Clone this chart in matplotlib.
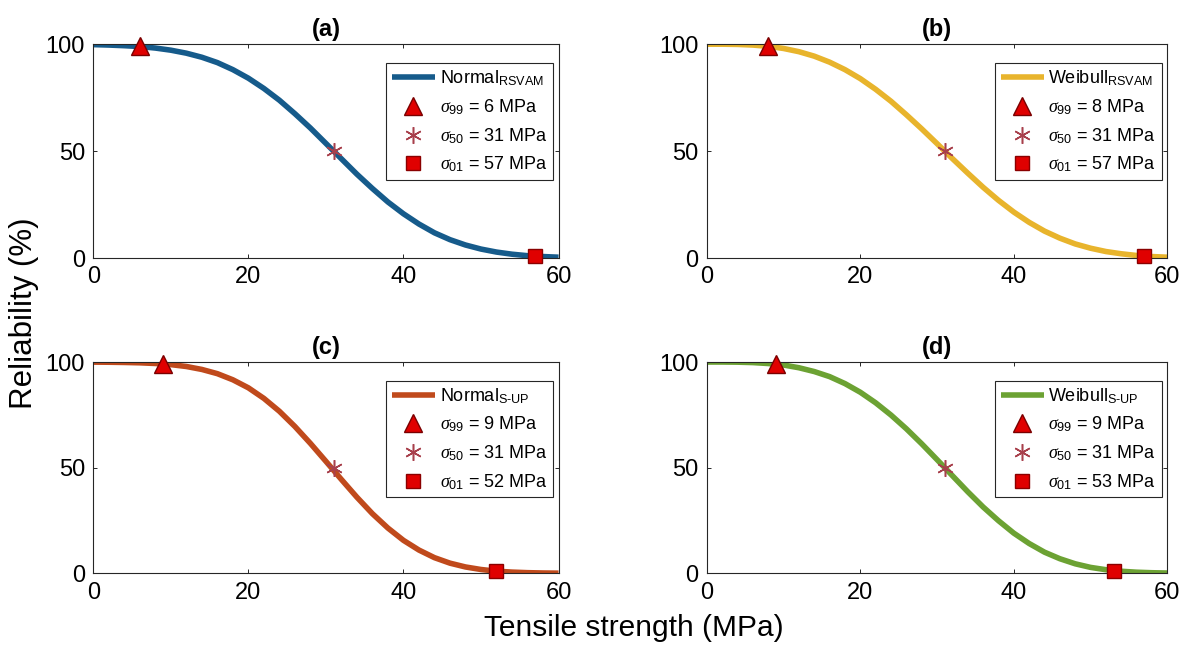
import matplotlib
matplotlib.use("Agg")
from matplotlib import pyplot as plt

plt.rcParams['font.family'] = ['Liberation Sans', 'DejaVu Sans']
plt.rcParams['mathtext.fontset'] = 'custom'
plt.rcParams['mathtext.rm'] = 'Liberation Sans'
plt.rcParams['mathtext.it'] = 'Liberation Serif:italic'

# tensile strength grid (MPa) and reliability (%)
strength = [0, 2, 4, 6, 8, 10, 12, 14, 16, 18, 20, 22, 24, 26, 28, 30,
            32, 34, 36, 38, 40, 42, 44, 46, 48, 50, 52, 54, 56, 58, 60]

normal_rsvam = [99.8, 99.6, 99.3, 98.9, 98.2, 97.2, 95.8, 93.9, 91.4, 88.1, 84.1,
                79.3, 73.8, 67.5, 60.8, 53.6, 46.4, 39.2, 32.5, 26.2, 20.7, 15.9,
                11.8, 8.6, 6.1, 4.2, 2.8, 1.8, 1.1, 0.7, 0.4]
weibull_rsvam = [100, 100, 99.9, 99.6, 99.0, 98.0, 96.5, 94.4, 91.6, 88.1, 83.9,
                 78.9, 73.3, 67.0, 60.4, 53.5, 46.5, 39.7, 33.1, 27.0, 21.5, 16.7,
                 12.6, 9.3, 6.6, 4.6, 3.05, 2.0, 1.2, 0.7, 0.4]
normal_sup = [99.96, 99.91, 99.81, 99.64, 99.32, 98.78, 97.9, 96.5, 94.5, 91.6, 87.8,
              82.8, 76.7, 69.5, 61.5, 53.0, 44.4, 36.0, 28.2, 21.4, 15.6, 11.0,
              7.4, 4.8, 3.0, 1.8, 1.0, 0.57, 0.3, 0.15, 0.07]
weibull_sup = [100, 100, 99.94, 99.75, 99.3, 98.6, 97.3, 95.5, 93.1, 89.8, 85.7,
               80.7, 74.9, 68.4, 61.3, 53.8, 46.2, 38.6, 31.4, 24.9, 19.0, 14.1,
               10.0, 6.9, 4.5, 2.8, 1.7, 0.97, 0.52, 0.27, 0.13]

curves = [normal_rsvam, weibull_rsvam, normal_sup, weibull_sup]
curve_names = [r'Normal$_{\mathrm{RSVAM}}$', r'Weibull$_{\mathrm{RSVAM}}$',
               r'Normal$_{\mathrm{S\text{-}UP}}$', r'Weibull$_{\mathrm{S\text{-}UP}}$']
panel_titles = ['(a)', '(b)', '(c)', '(d)']
curve_colors = ['#165b8b', '#e8b42c', '#c04a1c', '#6ca233']

# characteristic strengths: sigma_99, sigma_50, sigma_01
sigma99 = [6, 8, 9, 9]
sigma50 = [31, 31, 31, 31]
sigma01 = [57, 57, 52, 53]

fig = plt.figure(figsize=(11.96, 6.5), dpi=100)
positions = [[0.078, 0.603, 0.389, 0.329],
             [0.591, 0.603, 0.385, 0.329],
             [0.078, 0.118, 0.389, 0.325],
             [0.591, 0.118, 0.385, 0.325]]

for i in range(4):
    ax = fig.add_axes(positions[i])
    ax.plot(strength, curves[i], color=curve_colors[i], lw=4,
            solid_capstyle='butt', label=curve_names[i], zorder=2)
    ax.plot(sigma99[i], 99, linestyle='none', marker='^', markersize=13,
            markerfacecolor='#e00000', markeredgecolor='#7a0000', markeredgewidth=1,
            label=r'$\sigma_{99}$ = %d MPa' % sigma99[i], zorder=3, clip_on=False)
    ax.plot(sigma50[i], 50, linestyle='none', marker=(6, 2, 0), markersize=12,
            color='#a8404c', markeredgewidth=1.1,
            label=r'$\sigma_{50}$ = %d MPa' % sigma50[i], zorder=3)
    ax.plot(sigma01[i], 1, linestyle='none', marker='s', markersize=10,
            markerfacecolor='#e00000', markeredgecolor='#8a0000', markeredgewidth=1,
            label=r'$\sigma_{01}$ = %d MPa' % sigma01[i], zorder=3, clip_on=False)

    ax.set_xlim(0, 60)
    ax.set_ylim(0, 100)
    ax.set_xticks([0, 20, 40, 60])
    ax.set_yticks([0, 50, 100])
    ax.tick_params(direction='in', length=3, width=0.7, labelsize=17,
                   top=True, right=True, colors='#262626', labelcolor='black', pad=6)
    for sp in ax.spines.values():
        sp.set_color('#262626')
        sp.set_linewidth(0.8)
    ax.set_title(panel_titles[i], fontsize=17, fontweight='bold', pad=6)

    leg = ax.legend(loc='upper right', bbox_to_anchor=(0.988, 0.912), fontsize=13,
                    fancybox=False, framealpha=1, edgecolor='#262626',
                    handlelength=2.4, handletextpad=0.25, labelspacing=0.5,
                    borderpad=0.3, borderaxespad=0)
    leg.get_frame().set_linewidth(0.8)

fig.text(0.02, 0.518, 'Reliability (%)', rotation=90, fontsize=22.5,
         ha='center', va='center')
fig.text(0.53, 0.034, 'Tensile strength (MPa)', fontsize=21.5,
         ha='center', va='center')

fig.savefig('out.png', dpi=100)
